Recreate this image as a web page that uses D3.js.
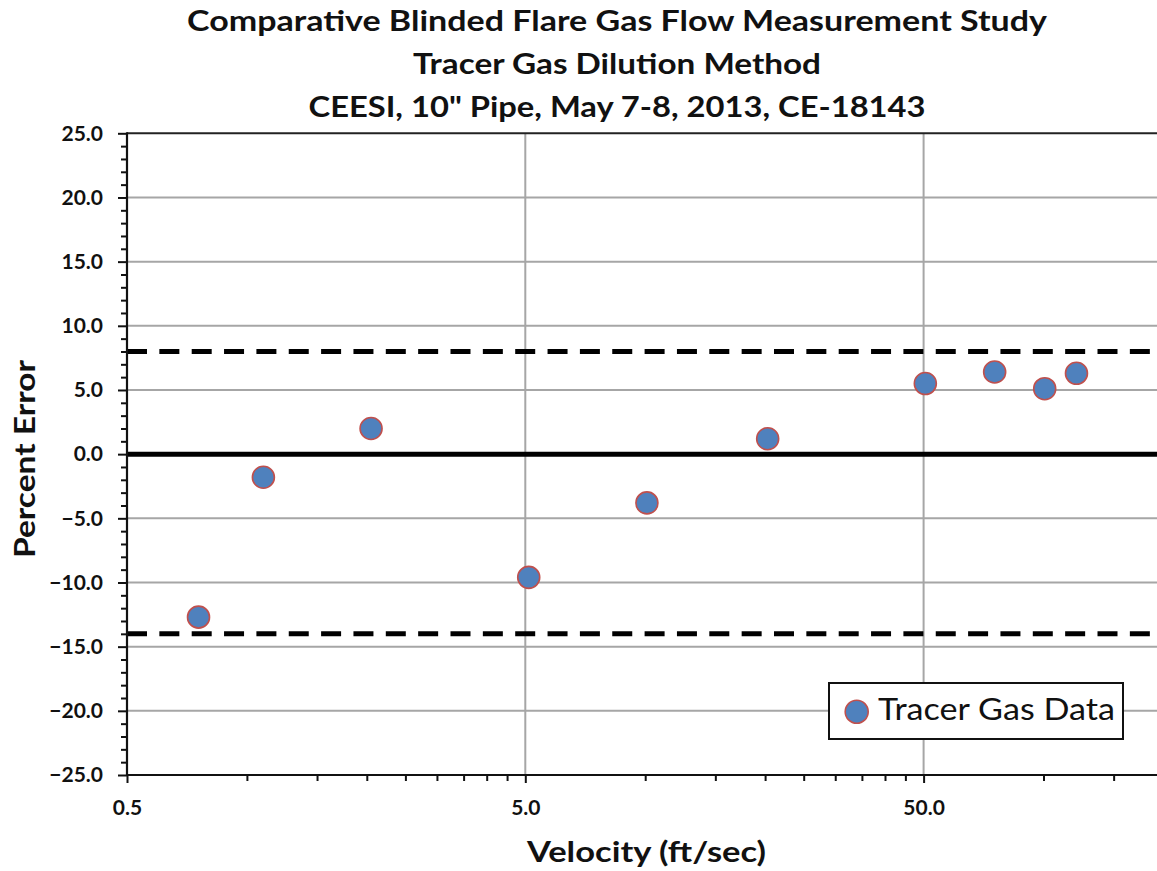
<!DOCTYPE html>
<html>
<head>
<meta charset="utf-8">
<script src="https://cdn.jsdelivr.net/npm/d3@7"></script>
<style>
  html, body { margin: 0; padding: 0; background: #fff; }
  svg { display: block; }
  text { font-family: Lato, "Open Sans", "DejaVu Sans", sans-serif; fill: #111; }
</style>
</head>
<body>
<svg id="chart" width="1157" height="871"></svg>
<script>
// Tracer gas dilution results: velocity (ft/sec) vs percent error
const velocity = [0.756, 1.10, 2.05, 5.10, 10.1, 20.3, 50.5, 75.4, 100.7, 121];
const percentError = [-12.7, -1.8, 2.0, -9.6, -3.8, 1.2, 5.5, 6.4, 5.1, 6.3];

const seriesName = "Tracer Gas Data";
const titleLines = [
  "Comparative Blinded Flare Gas Flow Measurement Study",
  "Tracer Gas Dilution Method",
  "CEESI, 10\" Pipe, May 7-8, 2013, CE-18143"
];
const xTitle = "Velocity (ft/sec)";
const yTitle = "Percent Error";

const xMajorTicks = [0.5, 5, 50];
const yMajorTicks = [-25, -20, -15, -10, -5, 0, 5, 10, 15, 20, 25];
const upperLimit = 8;
const lowerLimit = -14;

const svg = d3.select("#chart");

// plot area geometry (the axis runs to 500, past the right edge of the view)
const plotLeft = 127, plotTop = 133.3, plotBottom = 775;
const decade = 398.3;
const plotRight = 1160;

const x = d3.scaleLog().domain([0.5, 500]).range([plotLeft, plotLeft + 3 * decade]);
const y = d3.scaleLinear().domain([-25, 25]).range([plotBottom, plotTop]);

// minor ticks: multiples of each decade's start value
const xMinorTicks = [];
xMajorTicks.forEach(b => { for (let k = 2; k <= 9; k++) xMinorTicks.push(b * k); });
const yMinorTicks = d3.range(-25, 26, 1).filter(v => v % 5 !== 0);

const plot = svg.append("g");

// gridlines
plot.append("g").selectAll("line")
  .data(yMajorTicks.filter(v => v > -25 && v < 25))
  .join("line")
  .attr("x1", plotLeft).attr("x2", plotRight)
  .attr("y1", d => y(d)).attr("y2", d => y(d))
  .attr("stroke", "#a6a6a6").attr("stroke-width", 2);

plot.append("g").selectAll("line")
  .data([5, 50])
  .join("line")
  .attr("x1", d => x(d)).attr("x2", d => x(d))
  .attr("y1", plotTop).attr("y2", plotBottom)
  .attr("stroke", "#a6a6a6").attr("stroke-width", 2);

// acceptance limits
plot.append("g").selectAll("line")
  .data([upperLimit, lowerLimit])
  .join("line")
  .attr("x1", plotLeft).attr("x2", plotRight)
  .attr("y1", d => y(d)).attr("y2", d => y(d))
  .attr("stroke", "#000").attr("stroke-width", 5)
  .attr("stroke-dasharray", "20,12.35");

// zero reference line
plot.append("line")
  .attr("x1", plotLeft).attr("x2", plotRight)
  .attr("y1", y(0)).attr("y2", y(0))
  .attr("stroke", "#000").attr("stroke-width", 5);

// top border
plot.append("line")
  .attr("x1", plotLeft).attr("x2", plotRight)
  .attr("y1", plotTop).attr("y2", plotTop)
  .attr("stroke", "#222").attr("stroke-width", 2);

// axes
const fmt = d3.format(".1f");
svg.append("g")
  .attr("transform", `translate(${plotLeft},0)`)
  .call(d3.axisLeft(y).tickValues(yMajorTicks).tickFormat(fmt).tickSize(9).tickPadding(15));
svg.append("g")
  .attr("transform", `translate(${plotLeft},0)`)
  .call(d3.axisLeft(y).tickValues(yMinorTicks).tickFormat("").tickSize(6));

svg.append("g")
  .attr("transform", `translate(0,${plotBottom})`)
  .call(d3.axisBottom(x).tickValues(xMajorTicks).tickFormat(fmt).tickSize(8).tickPadding(17));
svg.append("g")
  .attr("transform", `translate(0,${plotBottom})`)
  .call(d3.axisBottom(x).tickValues(xMinorTicks).tickFormat("").tickSize(6));

svg.selectAll(".domain").remove();
svg.selectAll(".tick line").attr("stroke", "#111").attr("stroke-width", 2);
svg.selectAll(".tick text")
  .style("font-family", "Lato, sans-serif")
  .style("font-weight", 700)
  .style("font-size", "21px")
  .attr("fill", "#111");

// axis lines
svg.append("line")
  .attr("x1", plotLeft).attr("x2", plotLeft)
  .attr("y1", plotTop - 1).attr("y2", plotBottom + 1)
  .attr("stroke", "#111").attr("stroke-width", 2.2);
svg.append("line")
  .attr("x1", plotLeft - 1).attr("x2", plotRight)
  .attr("y1", plotBottom).attr("y2", plotBottom)
  .attr("stroke", "#111").attr("stroke-width", 2.2);

// data points
svg.append("g").selectAll("circle")
  .data(velocity.map((v, i) => ({ v, e: percentError[i] })))
  .join("circle")
  .attr("cx", d => x(d.v))
  .attr("cy", d => y(d.e))
  .attr("r", 11)
  .attr("fill", "#4f81bd")
  .attr("stroke", "#c0504d")
  .attr("stroke-width", 1.6);

// titles
const titleBaselines = [31, 73.5, 116.5];
const titleWidths = [860, 408, 617];
svg.append("g").selectAll("text")
  .data(titleLines)
  .join("text")
  .attr("x", 617)
  .attr("y", (d, i) => titleBaselines[i])
  .attr("text-anchor", "middle")
  .attr("textLength", (d, i) => titleWidths[i])
  .attr("lengthAdjust", "spacingAndGlyphs")
  .style("font-weight", 700)
  .style("font-size", "28.5px")
  .text(d => d);

svg.append("text")
  .attr("x", 646.5).attr("y", 862)
  .attr("text-anchor", "middle")
  .attr("textLength", 239)
  .attr("lengthAdjust", "spacingAndGlyphs")
  .style("font-weight", 700)
  .style("font-size", "29px")
  .text(xTitle);

svg.append("text")
  .attr("transform", "translate(35,459) rotate(-90)")
  .attr("text-anchor", "middle")
  .attr("textLength", 198)
  .attr("lengthAdjust", "spacingAndGlyphs")
  .style("font-weight", 700)
  .style("font-size", "29px")
  .text(yTitle);

// legend
const legend = svg.append("g");
legend.append("rect")
  .attr("x", 829).attr("y", 683)
  .attr("width", 294).attr("height", 56)
  .attr("fill", "#fff")
  .attr("stroke", "#111").attr("stroke-width", 2);
legend.append("circle")
  .attr("cx", 856.7).attr("cy", 711.7).attr("r", 11.5)
  .attr("fill", "#4f81bd")
  .attr("stroke", "#c0504d")
  .attr("stroke-width", 1.6);
legend.append("text")
  .attr("x", 878).attr("y", 720)
  .attr("textLength", 237)
  .attr("lengthAdjust", "spacingAndGlyphs")
  .style("font-weight", 400)
  .style("font-size", "30px")
  .text(seriesName);
</script>
</body>
</html>
